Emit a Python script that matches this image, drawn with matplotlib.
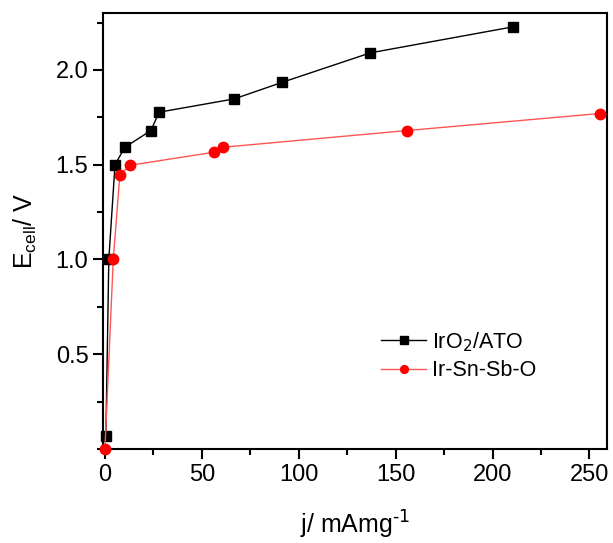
import matplotlib
matplotlib.use('Agg')
from matplotlib import pyplot as plt
from matplotlib.ticker import MultipleLocator

# IrO2/ATO
j_ato = [0.5, 2, 5.2, 10.3, 23.7, 28, 66.7, 91.6, 137, 210.5]
e_ato = [0.07, 1.0, 1.5, 1.592, 1.68, 1.777, 1.847, 1.935, 2.09, 2.227]
# Ir-Sn-Sb-O
j_isso = [0, 4.3, 7.7, 13, 56.4, 60.8, 155.7, 255.3]
e_isso = [0.0, 1.0, 1.446, 1.497, 1.566, 1.592, 1.68, 1.77]

plt.rcParams['font.family'] = ['Liberation Sans', 'DejaVu Sans']

fig = plt.figure(figsize=(6.13, 5.43), dpi=100)
ax = fig.add_axes([0.168, 0.173, 0.822, 0.803])

ax.plot(j_ato, e_ato, color='black', lw=1.0, marker='s', ms=7,
        label='IrO$_2$/ATO', clip_on=False, zorder=3)
ax.plot(j_isso, e_isso, color='#ff5555', lw=1.0, marker='o', ms=7.5,
        mfc='red', mec='red', label='Ir-Sn-Sb-O', clip_on=False, zorder=3)

ax.set_xlim(-1, 259)
ax.set_ylim(0, 2.3)
ax.set_xticks([0, 50, 100, 150, 200, 250])
ax.set_yticks([0.5, 1.0, 1.5, 2.0])
ax.xaxis.set_minor_locator(MultipleLocator(25))
ax.yaxis.set_minor_locator(MultipleLocator(0.25))
ax.tick_params(which='major', direction='out', length=7, width=1.5, labelsize=17)
ax.tick_params(which='minor', direction='out', length=4, width=1.5)
for s in ax.spines.values():
    s.set_linewidth(1.5)

ax.set_xlabel('j/ mAmg$^{\\text{-1}}$', fontsize=18, labelpad=17)
ax.set_ylabel('E$_{\\mathregular{cell}}$/ V', fontsize=18, labelpad=12)

ax.legend(loc='upper left', bbox_to_anchor=(0.552, 0.273), frameon=False,
          borderpad=0, borderaxespad=0, fontsize=15.5, handlelength=2.1,
          handletextpad=0.25, labelspacing=0.3, markerscale=0.75)

fig.savefig('out.png', dpi=100)
